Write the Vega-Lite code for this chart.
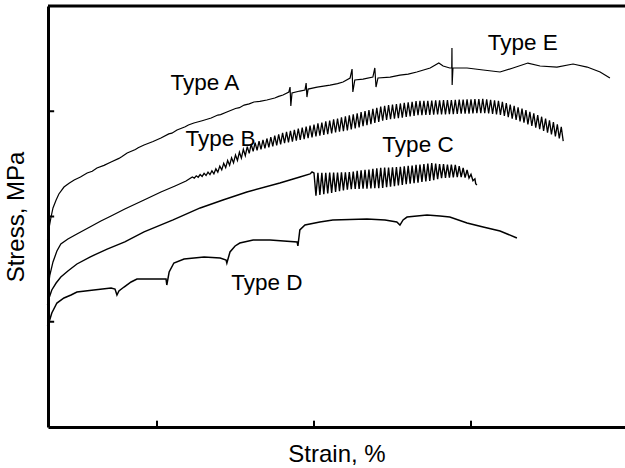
{
"$schema": "https://vega.github.io/schema/vega-lite/v6.json",
"width": 577, "height": 421,
"autosize": {"type": "none"},
"padding": {"left": 48, "top": 6, "right": 0, "bottom": 41},
"background": "white",
"config": {"view": {"stroke": null}, "font": "Liberation Sans"},
"datasets": {
"curves": [
{"curve":"Type A","strain":1.21,"stress":177.7},{"curve":"Type A","strain":1.25,"stress":189.1},{"curve":"Type A","strain":1.30,"stress":199.5},{"curve":"Type A","strain":1.35,"stress":208.1},{"curve":"Type A","strain":1.43,"stress":215.7},{"curve":"Type A","strain":1.50,"stress":221.4},{"curve":"Type A","strain":1.63,"stress":228.0},{"curve":"Type A","strain":1.76,"stress":231.6},{"curve":"Type A","strain":1.89,"stress":234.7},{"curve":"Type A","strain":2.05,"stress":237.5},{"curve":"Type A","strain":2.22,"stress":241.3},{"curve":"Type A","strain":2.35,"stress":243.0},{"curve":"Type A","strain":2.47,"stress":246.1},{"curve":"Type A","strain":2.65,"stress":248.6},{"curve":"Type A","strain":2.83,"stress":251.8},{"curve":"Type A","strain":3.03,"stress":255.2},{"curve":"Type A","strain":3.10,"stress":256.8},{"curve":"Type A","strain":3.24,"stress":260.3},{"curve":"Type A","strain":3.45,"stress":263.6},{"curve":"Type A","strain":3.52,"stress":265.4},{"curve":"Type A","strain":3.67,"stress":267.9},{"curve":"Type A","strain":3.90,"stress":271.2},{"curve":"Type A","strain":4.10,"stress":274.6},{"curve":"Type A","strain":4.30,"stress":278.5},{"curve":"Type A","strain":4.38,"stress":279.2},{"curve":"Type A","strain":4.51,"stress":282.2},{"curve":"Type A","strain":4.72,"stress":285.2},{"curve":"Type A","strain":4.80,"stress":287.0},{"curve":"Type A","strain":4.94,"stress":288.8},{"curve":"Type A","strain":5.15,"stress":291.0},{"curve":"Type A","strain":5.38,"stress":293.6},{"curve":"Type A","strain":5.55,"stress":296.4},{"curve":"Type A","strain":5.62,"stress":296.8},{"curve":"Type A","strain":5.78,"stress":299.3},{"curve":"Type A","strain":6.00,"stress":302.6},{"curve":"Type A","strain":6.10,"stress":303.4},{"curve":"Type A","strain":6.22,"stress":305.9},{"curve":"Type A","strain":6.35,"stress":307.0},{"curve":"Type A","strain":6.47,"stress":308.8},{"curve":"Type A","strain":6.62,"stress":309.4},{"curve":"Type A","strain":6.80,"stress":310.7},{"curve":"Type A","strain":7.00,"stress":312.6},{"curve":"Type A","strain":7.10,"stress":314.1},{"curve":"Type A","strain":7.21,"stress":315.4},{"curve":"Type A","strain":7.36,"stress":318.3},{"curve":"Type A","strain":7.39,"stress":323.0},{"curve":"Type A","strain":7.41,"stress":305.0},{"curve":"Type A","strain":7.44,"stress":317.3},{"curve":"Type A","strain":7.64,"stress":319.2},{"curve":"Type A","strain":7.77,"stress":320.2},{"curve":"Type A","strain":7.80,"stress":326.8},{"curve":"Type A","strain":7.82,"stress":313.5},{"curve":"Type A","strain":7.85,"stress":321.1},{"curve":"Type A","strain":8.08,"stress":323.0},{"curve":"Type A","strain":8.41,"stress":324.9},{"curve":"Type A","strain":8.60,"stress":326.2},{"curve":"Type A","strain":8.74,"stress":327.8},{"curve":"Type A","strain":8.92,"stress":331.6},{"curve":"Type A","strain":8.97,"stress":340.1},{"curve":"Type A","strain":8.99,"stress":318.3},{"curve":"Type A","strain":9.04,"stress":329.7},{"curve":"Type A","strain":9.25,"stress":330.6},{"curve":"Type A","strain":9.50,"stress":332.5},{"curve":"Type A","strain":9.55,"stress":341.1},{"curve":"Type A","strain":9.58,"stress":323.0},{"curve":"Type A","strain":9.63,"stress":331.6},{"curve":"Type A","strain":9.94,"stress":332.5},{"curve":"Type A","strain":10.19,"stress":334.4},{"curve":"Type A","strain":10.40,"stress":335.3},{"curve":"Type A","strain":10.62,"stress":337.3},{"curve":"Type A","strain":10.96,"stress":341.1},{"curve":"Type A","strain":11.18,"stress":345.8},{"curve":"Type A","strain":11.29,"stress":343.0},{"curve":"Type A","strain":11.46,"stress":341.1},{"curve":"Type A","strain":11.51,"stress":341.1},{"curve":"Type A","strain":11.515,"stress":360.1},{"curve":"Type A","strain":11.52,"stress":324.9},{"curve":"Type A","strain":11.54,"stress":341.1},{"curve":"Type A","strain":11.90,"stress":341.1},{"curve":"Type A","strain":12.31,"stress":339.2},{"curve":"Type A","strain":12.74,"stress":337.3},{"curve":"Type A","strain":13.07,"stress":341.1},{"curve":"Type A","strain":13.45,"stress":345.8},{"curve":"Type A","strain":13.76,"stress":343.0},{"curve":"Type A","strain":14.19,"stress":342.0},{"curve":"Type A","strain":14.60,"stress":344.9},{"curve":"Type A","strain":14.96,"stress":342.0},{"curve":"Type A","strain":15.29,"stress":337.3},{"curve":"Type A","strain":15.54,"stress":331.6},

{"curve":"Type B","strain":1.22,"stress":130.2},{"curve":"Type B","strain":1.27,"stress":144.4},{"curve":"Type B","strain":1.35,"stress":156.8},{"curve":"Type B","strain":1.45,"stress":167.2},{"curve":"Type B","strain":1.55,"stress":173.9},{"curve":"Type B","strain":1.73,"stress":178.6},{"curve":"Type B","strain":1.96,"stress":183.4},{"curve":"Type B","strain":2.29,"stress":190.0},{"curve":"Type B","strain":2.57,"stress":195.7},{"curve":"Type B","strain":2.83,"stress":200.5},{"curve":"Type B","strain":3.18,"stress":207.1},{"curve":"Type B","strain":3.67,"stress":215.7},{"curve":"Type B","strain":4.10,"stress":223.3},{"curve":"Type B","strain":4.46,"stress":229.0},{"curve":"Type B","strain":4.74,"stress":233.7},
{"curve":"Type B","strain":4.90,"stress":237.5},{"curve":"Type B","strain":4.95,"stress":236.5},{"curve":"Type B","strain":5.00,"stress":238.7},{"curve":"Type B","strain":5.05,"stress":237.3},{"curve":"Type B","strain":5.10,"stress":239.9},{"curve":"Type B","strain":5.15,"stress":238.1},{"curve":"Type B","strain":5.20,"stress":241.0},{"curve":"Type B","strain":5.25,"stress":239.0},{"curve":"Type B","strain":5.30,"stress":242.2},{"curve":"Type B","strain":5.35,"stress":239.8},{"curve":"Type B","strain":5.40,"stress":243.4},{"curve":"Type B","strain":5.45,"stress":240.6},{"curve":"Type B","strain":5.50,"stress":245.3},{"curve":"Type B","strain":5.55,"stress":242.1},{"curve":"Type B","strain":5.60,"stress":247.9},{"curve":"Type B","strain":5.65,"stress":244.3},{"curve":"Type B","strain":5.70,"stress":250.5},{"curve":"Type B","strain":5.75,"stress":246.5},{"curve":"Type B","strain":5.80,"stress":253.2},{"curve":"Type B","strain":5.85,"stress":248.8},{"curve":"Type B","strain":5.90,"stress":255.8},{"curve":"Type B","strain":5.95,"stress":251.0},{"curve":"Type B","strain":6.00,"stress":258.5},{"curve":"Type B","strain":6.05,"stress":253.3},{"curve":"Type B","strain":6.10,"stress":261.1},{"curve":"Type B","strain":6.15,"stress":255.5},{"curve":"Type B","strain":6.20,"stress":263.8},{"curve":"Type B","strain":6.25,"stress":257.8},{"curve":"Type B","strain":6.30,"stress":266.4},{"curve":"Type B","strain":6.35,"stress":260.0},{"curve":"Type B","strain":6.40,"stress":268.7},{"curve":"Type B","strain":6.45,"stress":261.9},{"curve":"Type B","strain":6.50,"stress":270.2},{"curve":"Type B","strain":6.55,"stress":262.8},{"curve":"Type B","strain":6.60,"stress":271.5},{"curve":"Type B","strain":6.65,"stress":263.7},{"curve":"Type B","strain":6.70,"stress":272.8},{"curve":"Type B","strain":6.75,"stress":264.8},{"curve":"Type B","strain":6.80,"stress":274.1},{"curve":"Type B","strain":6.85,"stress":265.7},{"curve":"Type B","strain":6.90,"stress":275.5},{"curve":"Type B","strain":6.95,"stress":266.7},{"curve":"Type B","strain":7.00,"stress":276.8},{"curve":"Type B","strain":7.05,"stress":267.6},{"curve":"Type B","strain":7.10,"stress":278.1},{"curve":"Type B","strain":7.15,"stress":268.5},{"curve":"Type B","strain":7.20,"stress":279.4},{"curve":"Type B","strain":7.25,"stress":269.6},{"curve":"Type B","strain":7.30,"stress":280.4},{"curve":"Type B","strain":7.35,"stress":270.4},{"curve":"Type B","strain":7.40,"stress":281.4},{"curve":"Type B","strain":7.45,"stress":271.2},{"curve":"Type B","strain":7.50,"stress":282.4},{"curve":"Type B","strain":7.55,"stress":272.0},{"curve":"Type B","strain":7.60,"stress":283.4},{"curve":"Type B","strain":7.65,"stress":272.8},{"curve":"Type B","strain":7.70,"stress":284.4},{"curve":"Type B","strain":7.75,"stress":273.6},{"curve":"Type B","strain":7.80,"stress":285.4},{"curve":"Type B","strain":7.85,"stress":274.4},{"curve":"Type B","strain":7.90,"stress":286.4},{"curve":"Type B","strain":7.95,"stress":275.2},{"curve":"Type B","strain":8.00,"stress":287.4},{"curve":"Type B","strain":8.05,"stress":276.0},{"curve":"Type B","strain":8.10,"stress":288.4},{"curve":"Type B","strain":8.15,"stress":276.8},{"curve":"Type B","strain":8.20,"stress":289.3},{"curve":"Type B","strain":8.25,"stress":277.5},{"curve":"Type B","strain":8.30,"stress":290.3},{"curve":"Type B","strain":8.35,"stress":278.3},{"curve":"Type B","strain":8.40,"stress":291.2},{"curve":"Type B","strain":8.45,"stress":279.0},{"curve":"Type B","strain":8.50,"stress":292.2},{"curve":"Type B","strain":8.55,"stress":279.8},{"curve":"Type B","strain":8.60,"stress":293.1},{"curve":"Type B","strain":8.65,"stress":280.5},{"curve":"Type B","strain":8.70,"stress":294.1},{"curve":"Type B","strain":8.75,"stress":281.1},{"curve":"Type B","strain":8.80,"stress":295.1},{"curve":"Type B","strain":8.85,"stress":281.9},{"curve":"Type B","strain":8.90,"stress":296.1},{"curve":"Type B","strain":8.95,"stress":282.7},{"curve":"Type B","strain":9.00,"stress":297.1},{"curve":"Type B","strain":9.05,"stress":283.7},{"curve":"Type B","strain":9.10,"stress":298.1},{"curve":"Type B","strain":9.15,"stress":284.7},{"curve":"Type B","strain":9.20,"stress":299.2},{"curve":"Type B","strain":9.25,"stress":285.8},{"curve":"Type B","strain":9.30,"stress":300.2},{"curve":"Type B","strain":9.35,"stress":286.8},{"curve":"Type B","strain":9.40,"stress":301.2},{"curve":"Type B","strain":9.45,"stress":287.8},{"curve":"Type B","strain":9.50,"stress":302.3},{"curve":"Type B","strain":9.55,"stress":288.9},{"curve":"Type B","strain":9.60,"stress":303.3},{"curve":"Type B","strain":9.65,"stress":289.9},{"curve":"Type B","strain":9.70,"stress":304.4},{"curve":"Type B","strain":9.75,"stress":291.0},{"curve":"Type B","strain":9.80,"stress":305.2},{"curve":"Type B","strain":9.85,"stress":291.8},{"curve":"Type B","strain":9.90,"stress":305.8},{"curve":"Type B","strain":9.95,"stress":292.4},{"curve":"Type B","strain":10.00,"stress":306.3},{"curve":"Type B","strain":10.05,"stress":292.9},{"curve":"Type B","strain":10.10,"stress":306.9},{"curve":"Type B","strain":10.15,"stress":293.5},{"curve":"Type B","strain":10.20,"stress":307.4},{"curve":"Type B","strain":10.25,"stress":294.0},{"curve":"Type B","strain":10.30,"stress":308.0},{"curve":"Type B","strain":10.35,"stress":294.6},{"curve":"Type B","strain":10.40,"stress":308.5},{"curve":"Type B","strain":10.45,"stress":295.1},{"curve":"Type B","strain":10.50,"stress":309.0},{"curve":"Type B","strain":10.55,"stress":295.6},{"curve":"Type B","strain":10.60,"stress":309.6},{"curve":"Type B","strain":10.65,"stress":296.2},{"curve":"Type B","strain":10.70,"stress":309.8},{"curve":"Type B","strain":10.75,"stress":296.4},{"curve":"Type B","strain":10.80,"stress":309.9},{"curve":"Type B","strain":10.85,"stress":296.5},{"curve":"Type B","strain":10.90,"stress":310.0},{"curve":"Type B","strain":10.95,"stress":296.6},{"curve":"Type B","strain":11.00,"stress":310.1},{"curve":"Type B","strain":11.05,"stress":296.7},{"curve":"Type B","strain":11.10,"stress":310.3},{"curve":"Type B","strain":11.15,"stress":296.9},{"curve":"Type B","strain":11.20,"stress":310.4},{"curve":"Type B","strain":11.25,"stress":297.0},{"curve":"Type B","strain":11.30,"stress":310.5},{"curve":"Type B","strain":11.35,"stress":297.1},{"curve":"Type B","strain":11.40,"stress":310.6},{"curve":"Type B","strain":11.45,"stress":297.2},{"curve":"Type B","strain":11.50,"stress":310.7},{"curve":"Type B","strain":11.55,"stress":297.3},{"curve":"Type B","strain":11.60,"stress":310.8},{"curve":"Type B","strain":11.65,"stress":297.4},{"curve":"Type B","strain":11.70,"stress":311.0},{"curve":"Type B","strain":11.75,"stress":297.6},{"curve":"Type B","strain":11.80,"stress":311.1},{"curve":"Type B","strain":11.85,"stress":297.7},{"curve":"Type B","strain":11.90,"stress":311.2},{"curve":"Type B","strain":11.95,"stress":297.8},{"curve":"Type B","strain":12.00,"stress":311.3},{"curve":"Type B","strain":12.05,"stress":297.9},{"curve":"Type B","strain":12.10,"stress":311.5},{"curve":"Type B","strain":12.15,"stress":298.1},{"curve":"Type B","strain":12.20,"stress":311.6},{"curve":"Type B","strain":12.25,"stress":298.2},{"curve":"Type B","strain":12.30,"stress":311.7},{"curve":"Type B","strain":12.35,"stress":298.3},{"curve":"Type B","strain":12.40,"stress":311.3},{"curve":"Type B","strain":12.45,"stress":297.9},{"curve":"Type B","strain":12.50,"stress":310.9},{"curve":"Type B","strain":12.55,"stress":297.5},{"curve":"Type B","strain":12.60,"stress":310.4},{"curve":"Type B","strain":12.65,"stress":297.0},{"curve":"Type B","strain":12.70,"stress":310.0},{"curve":"Type B","strain":12.75,"stress":296.6},{"curve":"Type B","strain":12.80,"stress":309.0},{"curve":"Type B","strain":12.85,"stress":295.6},{"curve":"Type B","strain":12.90,"stress":307.7},{"curve":"Type B","strain":12.95,"stress":294.3},{"curve":"Type B","strain":13.00,"stress":306.4},{"curve":"Type B","strain":13.05,"stress":293.0},{"curve":"Type B","strain":13.10,"stress":305.1},{"curve":"Type B","strain":13.15,"stress":291.7},{"curve":"Type B","strain":13.20,"stress":303.8},{"curve":"Type B","strain":13.25,"stress":290.4},{"curve":"Type B","strain":13.30,"stress":302.5},{"curve":"Type B","strain":13.35,"stress":289.1},{"curve":"Type B","strain":13.40,"stress":301.0},{"curve":"Type B","strain":13.45,"stress":287.6},{"curve":"Type B","strain":13.50,"stress":299.5},{"curve":"Type B","strain":13.55,"stress":286.1},{"curve":"Type B","strain":13.60,"stress":297.9},{"curve":"Type B","strain":13.65,"stress":284.5},{"curve":"Type B","strain":13.70,"stress":296.4},{"curve":"Type B","strain":13.75,"stress":283.0},{"curve":"Type B","strain":13.80,"stress":294.8},{"curve":"Type B","strain":13.85,"stress":281.4},{"curve":"Type B","strain":13.90,"stress":293.1},{"curve":"Type B","strain":13.95,"stress":279.7},{"curve":"Type B","strain":14.00,"stress":291.3},{"curve":"Type B","strain":14.05,"stress":277.9},{"curve":"Type B","strain":14.10,"stress":289.6},{"curve":"Type B","strain":14.15,"stress":276.2},{"curve":"Type B","strain":14.20,"stress":287.5},{"curve":"Type B","strain":14.25,"stress":274.1},{"curve":"Type B","strain":14.30,"stress":285.1},{"curve":"Type B","strain":14.35,"stress":271.7},

{"curve":"Type C","strain":1.21,"stress":115.9},{"curve":"Type C","strain":1.25,"stress":122.6},{"curve":"Type C","strain":1.32,"stress":130.2},{"curve":"Type C","strain":1.43,"stress":136.8},{"curve":"Type C","strain":1.55,"stress":142.5},{"curve":"Type C","strain":1.73,"stress":148.2},{"curve":"Type C","strain":1.96,"stress":154.9},{"curve":"Type C","strain":2.29,"stress":161.5},{"curve":"Type C","strain":2.73,"stress":169.1},{"curve":"Type C","strain":3.18,"stress":175.8},{"curve":"Type C","strain":3.67,"stress":185.3},{"curve":"Type C","strain":4.41,"stress":196.7},{"curve":"Type C","strain":5.10,"stress":208.1},{"curve":"Type C","strain":5.68,"stress":215.7},{"curve":"Type C","strain":6.29,"stress":223.3},{"curve":"Type C","strain":7.13,"stress":231.8},{"curve":"Type C","strain":7.64,"stress":237.5},{"curve":"Type C","strain":7.90,"stress":240.4},{"curve":"Type C","strain":7.95,"stress":242.3},
{"curve":"Type C","strain":8.00,"stress":241.3},{"curve":"Type C","strain":8.05,"stress":219.7},{"curve":"Type C","strain":8.10,"stress":241.4},{"curve":"Type C","strain":8.15,"stress":220.4},{"curve":"Type C","strain":8.20,"stress":241.5},{"curve":"Type C","strain":8.25,"stress":221.1},{"curve":"Type C","strain":8.30,"stress":241.6},{"curve":"Type C","strain":8.35,"stress":221.8},{"curve":"Type C","strain":8.40,"stress":241.7},{"curve":"Type C","strain":8.45,"stress":222.5},{"curve":"Type C","strain":8.50,"stress":241.7},{"curve":"Type C","strain":8.55,"stress":223.3},{"curve":"Type C","strain":8.60,"stress":241.8},{"curve":"Type C","strain":8.65,"stress":224.0},{"curve":"Type C","strain":8.70,"stress":241.9},{"curve":"Type C","strain":8.75,"stress":224.7},{"curve":"Type C","strain":8.80,"stress":242.0},{"curve":"Type C","strain":8.85,"stress":225.4},{"curve":"Type C","strain":8.90,"stress":242.2},{"curve":"Type C","strain":8.95,"stress":226.0},{"curve":"Type C","strain":9.00,"stress":242.7},{"curve":"Type C","strain":9.05,"stress":226.1},{"curve":"Type C","strain":9.10,"stress":243.3},{"curve":"Type C","strain":9.15,"stress":226.3},{"curve":"Type C","strain":9.20,"stress":243.8},{"curve":"Type C","strain":9.25,"stress":226.4},{"curve":"Type C","strain":9.30,"stress":244.3},{"curve":"Type C","strain":9.35,"stress":226.5},{"curve":"Type C","strain":9.40,"stress":244.7},{"curve":"Type C","strain":9.45,"stress":226.7},{"curve":"Type C","strain":9.50,"stress":245.2},{"curve":"Type C","strain":9.55,"stress":226.8},{"curve":"Type C","strain":9.60,"stress":245.7},{"curve":"Type C","strain":9.65,"stress":226.9},{"curve":"Type C","strain":9.70,"stress":246.2},{"curve":"Type C","strain":9.75,"stress":227.2},{"curve":"Type C","strain":9.80,"stress":246.4},{"curve":"Type C","strain":9.85,"stress":227.8},{"curve":"Type C","strain":9.90,"stress":246.5},{"curve":"Type C","strain":9.95,"stress":228.3},{"curve":"Type C","strain":10.00,"stress":246.7},{"curve":"Type C","strain":10.05,"stress":228.9},{"curve":"Type C","strain":10.10,"stress":246.9},{"curve":"Type C","strain":10.15,"stress":229.5},{"curve":"Type C","strain":10.20,"stress":247.2},{"curve":"Type C","strain":10.25,"stress":230.0},{"curve":"Type C","strain":10.30,"stress":247.6},{"curve":"Type C","strain":10.35,"stress":230.6},{"curve":"Type C","strain":10.40,"stress":248.1},{"curve":"Type C","strain":10.45,"stress":231.1},{"curve":"Type C","strain":10.50,"stress":248.5},{"curve":"Type C","strain":10.55,"stress":231.7},{"curve":"Type C","strain":10.60,"stress":249.0},{"curve":"Type C","strain":10.65,"stress":232.2},{"curve":"Type C","strain":10.70,"stress":249.4},{"curve":"Type C","strain":10.75,"stress":232.8},{"curve":"Type C","strain":10.80,"stress":249.9},{"curve":"Type C","strain":10.85,"stress":233.3},{"curve":"Type C","strain":10.90,"stress":250.3},{"curve":"Type C","strain":10.95,"stress":233.9},{"curve":"Type C","strain":11.00,"stress":250.7},{"curve":"Type C","strain":11.05,"stress":234.5},{"curve":"Type C","strain":11.10,"stress":250.3},{"curve":"Type C","strain":11.15,"stress":235.5},{"curve":"Type C","strain":11.20,"stress":249.9},{"curve":"Type C","strain":11.25,"stress":236.5},{"curve":"Type C","strain":11.30,"stress":249.7},{"curve":"Type C","strain":11.35,"stress":236.7},{"curve":"Type C","strain":11.40,"stress":249.4},{"curve":"Type C","strain":11.45,"stress":237.0},{"curve":"Type C","strain":11.50,"stress":249.2},{"curve":"Type C","strain":11.55,"stress":237.2},{"curve":"Type C","strain":11.60,"stress":249.0},{"curve":"Type C","strain":11.65,"stress":237.4},{"curve":"Type C","strain":11.70,"stress":247.8},{"curve":"Type C","strain":11.75,"stress":237.4},{"curve":"Type C","strain":11.80,"stress":246.1},{"curve":"Type C","strain":11.85,"stress":236.9},{"curve":"Type C","strain":11.90,"stress":244.2},{"curve":"Type C","strain":11.95,"stress":236.6},{"curve":"Type C","strain":12.00,"stress":240.0},{"curve":"Type C","strain":12.05,"stress":234.0},{"curve":"Type C","strain":12.10,"stress":235.8},{"curve":"Type C","strain":12.12,"stress":231.2},{"curve":"Type C","strain":12.15,"stress":230.0},

{"curve":"Type D","strain":1.21,"stress":96.0},{"curve":"Type D","strain":1.25,"stress":99.8},{"curve":"Type D","strain":1.32,"stress":108.3},{"curve":"Type D","strain":1.45,"stress":117.8},{"curve":"Type D","strain":1.63,"stress":122.6},{"curve":"Type D","strain":1.81,"stress":125.4},{"curve":"Type D","strain":1.96,"stress":128.3},{"curve":"Type D","strain":2.39,"stress":130.2},{"curve":"Type D","strain":2.83,"stress":132.1},{"curve":"Type D","strain":2.93,"stress":131.1},{"curve":"Type D","strain":2.98,"stress":125.4},{"curve":"Type D","strain":3.03,"stress":129.2},{"curve":"Type D","strain":3.16,"stress":133.0},{"curve":"Type D","strain":3.34,"stress":137.8},{"curve":"Type D","strain":3.49,"stress":140.6},{"curve":"Type D","strain":3.82,"stress":140.6},{"curve":"Type D","strain":4.23,"stress":140.6},{"curve":"Type D","strain":4.25,"stress":134.9},{"curve":"Type D","strain":4.31,"stress":147.3},{"curve":"Type D","strain":4.43,"stress":155.8},{"curve":"Type D","strain":4.69,"stress":159.6},{"curve":"Type D","strain":5.20,"stress":161.5},{"curve":"Type D","strain":5.61,"stress":160.6},{"curve":"Type D","strain":5.76,"stress":158.7},{"curve":"Type D","strain":5.78,"stress":155.8},{"curve":"Type D","strain":5.86,"stress":166.3},{"curve":"Type D","strain":5.99,"stress":172.0},{"curve":"Type D","strain":6.11,"stress":174.8},{"curve":"Type D","strain":6.45,"stress":177.7},{"curve":"Type D","strain":6.88,"stress":177.7},{"curve":"Type D","strain":7.57,"stress":175.8},{"curve":"Type D","strain":7.59,"stress":172.0},{"curve":"Type D","strain":7.64,"stress":187.2},{"curve":"Type D","strain":7.77,"stress":191.9},{"curve":"Type D","strain":8.15,"stress":194.8},{"curve":"Type D","strain":8.48,"stress":196.7},{"curve":"Type D","strain":9.35,"stress":197.6},{"curve":"Type D","strain":9.81,"stress":196.7},{"curve":"Type D","strain":10.11,"stress":194.8},{"curve":"Type D","strain":10.19,"stress":191.9},{"curve":"Type D","strain":10.27,"stress":196.7},{"curve":"Type D","strain":10.37,"stress":199.5},{"curve":"Type D","strain":10.88,"stress":201.4},{"curve":"Type D","strain":11.21,"stress":200.5},{"curve":"Type D","strain":11.46,"stress":199.5},{"curve":"Type D","strain":11.90,"stress":193.8},{"curve":"Type D","strain":12.31,"stress":190.0},{"curve":"Type D","strain":12.74,"stress":186.2},{"curve":"Type D","strain":13.17,"stress":179.6}
],
"labels": [
{"label":"Type A","strain":5.22,"stress":320.2},
{"label":"Type B","strain":5.62,"stress":267.0},
{"label":"Type C","strain":10.65,"stress":261.3},
{"label":"Type D","strain":6.80,"stress":130.2},
{"label":"Type E","strain":13.32,"stress":358.2}
],
"xticks": [{"strain": 4}, {"strain": 8}, {"strain": 12}],
"yticks": [{"stress": 100}, {"stress": 200}, {"stress": 300}]
},
"layer": [
{
"data": {"name": "curves"},
"mark": {"type": "line", "color": "black"},
"encoding": {
"x": {"field": "strain", "type": "quantitative", "title": "Strain, %",
"scale": {"domain": [1.223, 15.924], "nice": false, "zero": false},
"axis": {"values": [4, 8, 12], "labels": false, "ticks": false, "domainWidth": 3, "domainColor": "black", "grid": false, "titleFontSize": 24, "titleFontWeight": "normal", "titleFont": "Liberation Sans", "titleColor": "black", "titlePadding": 15}},
"y": {"field": "stress", "type": "quantitative", "title": "Stress, MPa",
"scale": {"domain": [0, 400], "nice": false, "zero": false},
"axis": {"values": [100, 200, 300], "labels": false, "ticks": false, "domainWidth": 3, "domainColor": "black", "grid": false, "titleFontSize": 24, "titleFontWeight": "normal", "titleFont": "Liberation Sans", "titleColor": "black", "titlePadding": 20}},
"detail": {"field": "curve"},
"strokeWidth": {"field": "curve", "type": "nominal", "legend": null, "scale": {"domain": ["Type A", "Type B", "Type C", "Type D"], "range": [1.2, 1.5, 1.5, 1.2]}}
}
},
{
"data": {"name": "labels"},
"mark": {"type": "text", "fontSize": 22.5, "font": "Liberation Sans", "color": "black", "align": "center", "baseline": "alphabetic"},
"encoding": {
"x": {"field": "strain", "type": "quantitative", "title": "Strain, %"},
"y": {"field": "stress", "type": "quantitative", "title": "Stress, MPa"},
"text": {"field": "label"}
}
},
{
"data": {"name": "xticks"},
"mark": {"type": "rule", "color": "black", "strokeWidth": 2},
"encoding": {
"x": {"field": "strain", "type": "quantitative", "title": "Strain, %"},
"y": {"datum": 0},
"y2": {"datum": 6}
}
},
{
"data": {"name": "yticks"},
"mark": {"type": "rule", "color": "black", "strokeWidth": 2},
"encoding": {
"y": {"field": "stress", "type": "quantitative", "title": "Stress, MPa"},
"x": {"datum": 1.223},
"x2": {"datum": 1.38}
}
},
{
"data": {"values": [{}]},
"mark": {"type": "rule", "color": "black", "strokeWidth": 3},
"encoding": {"y": {"datum": 400}}
}
]
}
